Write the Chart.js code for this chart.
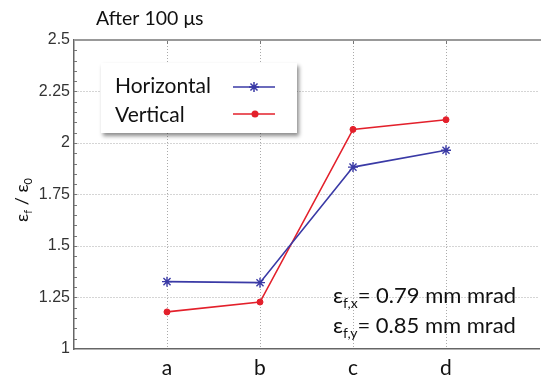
<!DOCTYPE html>
<html>
<head>
<meta charset="utf-8">
<script src="https://cdn.jsdelivr.net/npm/chart.js@4"></script>
<style>
html, body { margin: 0; padding: 0; background: #fff; overflow: hidden; }
#wrap { width: 546px; height: 380px; }
</style>
</head>
<body>
<div id="wrap"><canvas id="chart"></canvas></div>
<script>
// values
const categories = ['a', 'b', 'c', 'd'];
const horizontal = [1.327, 1.322, 1.883, 1.965];
const vertical = [1.18, 1.228, 2.066, 2.113];
const yTicks = [1, 1.25, 1.5, 1.75, 2, 2.25, 2.5];

const BLUE = '#3a3aa6';
const RED = '#e3202b';
const TEXT_FONT = 'Lato, "Open Sans", sans-serif';

// draw text with subscripts, parts = [[text, isSub], ...]
function drawRich(ctx, parts, x, y, size) {
    parts.forEach(p => {
        const sub = p[1];
        ctx.font = (sub ? Math.round(size * 0.62) : size) + 'px ' + TEXT_FONT;
        ctx.fillText(p[0], x, sub ? y + size * 0.22 : y);
        x += ctx.measureText(p[0]).width;
    });
    return x;
}

function richWidth(ctx, parts, size) {
    let w = 0;
    parts.forEach(p => {
        ctx.font = (p[1] ? Math.round(size * 0.62) : size) + 'px ' + TEXT_FONT;
        w += ctx.measureText(p[0]).width;
    });
    return w;
}

const extras = {
    id: 'extras',
    beforeDatasetsDraw(chart) {
        const ctx = chart.ctx;
        const area = chart.chartArea;
        const y = chart.scales.y;
        const x = chart.scales.x;
        ctx.save();
        // minor ticks on y axis
        ctx.strokeStyle = '#777';
        ctx.lineWidth = 1;
        for (let v = 1.05; v < 2.5; v += 0.05) {
            const py = Math.round(y.getPixelForValue(v)) + 0.5;
            ctx.beginPath();
            ctx.moveTo(area.left, py);
            ctx.lineTo(area.left + 3, py);
            ctx.stroke();
        }
        // small ticks at top for categories
        categories.forEach((c, i) => {
            const px = Math.round(x.getPixelForValue(i + 1)) + 0.5;
            ctx.beginPath();
            ctx.moveTo(px, area.top);
            ctx.lineTo(px, area.top + 4);
            ctx.stroke();
        });
        // top border
        ctx.strokeStyle = '#999';
        ctx.lineWidth = 2;
        ctx.beginPath();
        ctx.moveTo(area.left, area.top);
        ctx.lineTo(chart.width, area.top);
        ctx.stroke();
        ctx.restore();
    },
    afterDraw(chart) {
        const ctx = chart.ctx;
        ctx.save();
        ctx.fillStyle = '#111';
        ctx.textBaseline = 'alphabetic';

        // title
        ctx.font = '19.5px ' + TEXT_FONT;
        ctx.fillText('After 100 \u03bcs', 96, 25);

        // y axis title
        ctx.save();
        ctx.translate(28, 200);
        ctx.rotate(-Math.PI / 2);
        const yl = [['\u03b5', false], ['f', true], [' / \u03b5', false], ['0', true]];
        drawRich(ctx, yl, -richWidth(ctx, yl, 18) / 2, 0, 18);
        ctx.restore();

        // legend box
        ctx.save();
        ctx.shadowColor = 'rgba(0,0,0,0.45)';
        ctx.shadowBlur = 4;
        ctx.shadowOffsetX = 2;
        ctx.shadowOffsetY = 3;
        ctx.fillStyle = '#fff';
        ctx.fillRect(101, 63, 196, 70);
        ctx.restore();

        ctx.font = '21px ' + TEXT_FONT;
        ctx.fillText('Horizontal', 115, 93);
        ctx.fillText('Vertical', 115, 122);

        ctx.lineWidth = 1.5;
        ctx.strokeStyle = BLUE;
        ctx.beginPath();
        ctx.moveTo(233, 87);
        ctx.lineTo(275, 87);
        ctx.stroke();
        const r = 5;
        ctx.beginPath();
        ctx.moveTo(254 - r, 87); ctx.lineTo(254 + r, 87);
        ctx.moveTo(254, 87 - r); ctx.lineTo(254, 87 + r);
        const d = r * 0.707;
        ctx.moveTo(254 - d, 87 - d); ctx.lineTo(254 + d, 87 + d);
        ctx.moveTo(254 - d, 87 + d); ctx.lineTo(254 + d, 87 - d);
        ctx.stroke();

        ctx.strokeStyle = RED;
        ctx.fillStyle = RED;
        ctx.beginPath();
        ctx.moveTo(233, 114);
        ctx.lineTo(275, 114);
        ctx.stroke();
        ctx.beginPath();
        ctx.arc(255, 114, 3.5, 0, Math.PI * 2);
        ctx.fill();

        // annotation
        ctx.fillStyle = '#111';
        drawRich(ctx, [['\u03b5', false], ['f,x', true], ['= 0.79 mm mrad', false]], 333, 303, 22);
        drawRich(ctx, [['\u03b5', false], ['f,y', true], ['= 0.85 mm mrad', false]], 333, 333, 22);
        ctx.restore();
    }
};

const toPoints = vals => vals.map((v, i) => ({ x: i + 1, y: v }));

new Chart(document.getElementById('chart'), {
    type: 'line',
    data: {
        datasets: [{
            label: 'Horizontal',
            data: toPoints(horizontal),
            borderColor: BLUE,
            backgroundColor: BLUE,
            borderWidth: 1.6,
            pointStyle: 'star',
            pointRadius: 5,
            pointBorderWidth: 1.4,
            tension: 0
        }, {
            label: 'Vertical',
            data: toPoints(vertical),
            borderColor: RED,
            backgroundColor: RED,
            borderWidth: 1.6,
            pointStyle: 'circle',
            pointRadius: 3,
            pointBorderWidth: 1,
            tension: 0
        }]
    },
    options: {
        responsive: true,
        maintainAspectRatio: false,
        animation: false,
        layout: { padding: { top: 40, right: 1, left: 0, bottom: 0 } },
        plugins: {
            legend: { display: false },
            tooltip: { enabled: false }
        },
        scales: {
            x: {
                type: 'linear',
                min: 0,
                max: 5,
                afterFit: s => { s.height = 31; },
                ticks: {
                    stepSize: 1,
                    padding: 7,
                    color: '#111',
                    font: { family: 'Lato', size: 21 },
                    callback: v => categories[v - 1] || ''
                },
                grid: {
                    color: c => (c.tick && c.tick.value >= 1 && c.tick.value <= 4) ? '#aaa' : 'rgba(0,0,0,0)',
                    lineWidth: 1,
                    drawTicks: false
                },
                border: { color: '#666', width: 1.5, dash: [1, 2] }
            },
            y: {
                min: 1,
                max: 2.5,
                afterFit: s => { s.width = 74; },
                afterBuildTicks: s => { s.ticks = yTicks.map(v => ({ value: v })); },
                ticks: {
                    padding: 4,
                    color: '#333',
                    font: { family: '"Liberation Sans", Arial', size: 16 },
                    callback: v => String(v)
                },
                grid: {
                    color: c => (c.tick && c.tick.value > 1 && c.tick.value < 2.5) ? '#aaa' : 'rgba(0,0,0,0)',
                    lineWidth: 1,
                    drawTicks: false
                },
                border: { color: '#666', width: 1.5, dash: [1, 2] }
            }
        }
    },
    plugins: [extras]
});
</script>
</body>
</html>
